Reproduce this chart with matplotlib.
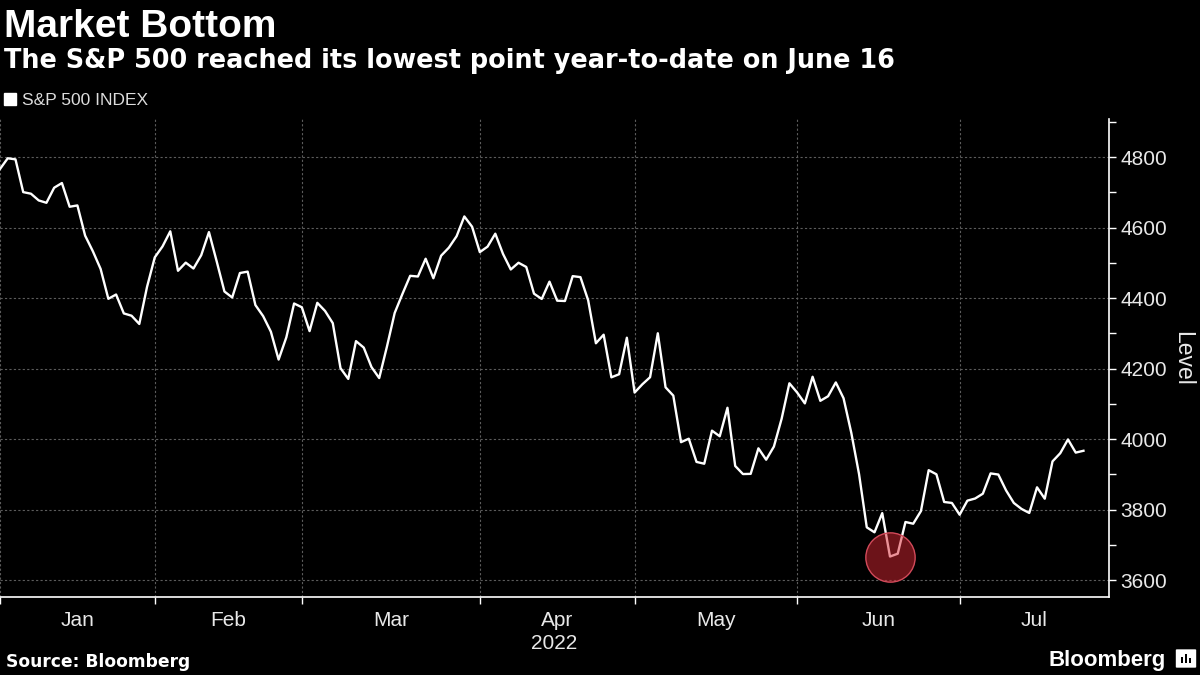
import matplotlib.pyplot as plt
import numpy as np
import pandas as pd
from matplotlib.lines import Line2D
from matplotlib.patches import FancyBboxPatch, Rectangle
from matplotlib.ticker import MultipleLocator

plt.rcParams['font.family'] = ['Liberation Sans', 'DejaVu Sans']

# S&P 500 daily closes, 2021-12-31 .. 2022-07-25 (trading days only)
closes = [
    4766.18,
    # Jan
    4796.56, 4793.54, 4700.58, 4696.05, 4677.03, 4670.29, 4713.07, 4726.35, 4659.03, 4662.85,
    4577.11, 4532.76, 4482.73, 4397.94, 4410.13, 4356.45, 4349.93, 4326.51, 4431.85, 4515.55,
    # Feb
    4546.54, 4589.38, 4477.44, 4500.53, 4483.87, 4521.54, 4587.18, 4504.08, 4418.64, 4401.67,
    4471.07, 4475.01, 4380.26, 4348.87, 4304.76, 4225.50, 4288.70, 4384.65, 4373.94,
    # Mar
    4306.26, 4386.54, 4363.49, 4328.87, 4201.09, 4170.70, 4277.88, 4259.52, 4204.31, 4173.11,
    4262.45, 4357.86, 4411.67, 4463.12, 4461.18, 4511.61, 4456.24, 4520.16, 4543.06, 4575.52,
    4631.60, 4602.45, 4530.41,
    # Apr
    4545.86, 4582.64, 4525.12, 4481.15, 4500.21, 4488.28, 4412.53, 4397.45, 4446.59, 4392.59,
    4391.69, 4462.21, 4459.45, 4393.66, 4271.78, 4296.12, 4175.20, 4183.96, 4287.50, 4131.93,
    # May
    4155.38, 4175.48, 4300.17, 4146.87, 4123.34, 3991.24, 4001.05, 3935.18, 3930.08, 4023.89,
    4008.01, 4088.85, 3923.68, 3900.79, 3901.36, 3973.75, 3941.48, 3978.73, 4057.84, 4158.24,
    4132.15,
    # Jun
    4101.23, 4176.82, 4108.54, 4121.43, 4160.68, 4115.77, 4017.82, 3900.86, 3749.63, 3735.48,
    3789.99, 3666.77, 3674.84, 3764.79, 3759.89, 3795.73, 3911.74, 3900.11, 3821.55, 3818.83,
    3785.38,
    # Jul
    3825.33, 3831.39, 3845.08, 3902.62, 3899.38, 3854.43, 3818.80, 3801.78, 3790.38, 3863.16,
    3830.85, 3936.69, 3959.90, 3998.95, 3961.63, 3966.84,
]
holidays = ['2022-01-17', '2022-02-21', '2022-04-15', '2022-05-30', '2022-06-20', '2022-07-04']
months = ['Jan', 'Feb', 'Mar', 'Apr', 'May', 'Jun', 'Jul']
y_ticks = [3600, 3800, 4000, 4200, 4400, 4600, 4800]

dates = pd.bdate_range('2021-12-31', periods=len(closes), freq='C', holidays=holidays)
x = np.arange(len(closes))
y = np.array(closes)

# last trading day of every month -> month separators
month_end = pd.Series(x, index=dates).groupby(dates.to_period('M')).max().values
bounds = list(month_end[:-1])
x_max = 143.3
centers = [(a + b) / 2 for a, b in zip(bounds, bounds[1:] + [x_max])]

fg = '#e8e8e8'
grid_c = '#5c5c5c'

fig = plt.figure(figsize=(12, 6.75), dpi=100, facecolor='black')
ax = fig.add_axes([0, 78 / 675, 1109 / 1200, 478 / 675], facecolor='black')

ax.plot(x, y, '-', color='white', linewidth=1.7, zorder=3)
i_min = int(np.argmin(y))
ax.plot(x[i_min], y[i_min], 'o', markersize=35.5,
        markerfacecolor=(0.85, 0.15, 0.2, 0.5),
        markeredgecolor='#d24a5a', markeredgewidth=1.0, zorder=4)

ax.set_xlim(0, x_max)
ax.set_ylim(3552, 4908)

ax.set_xticks(bounds)
ax.set_xticklabels([])
ax.set_xticks(centers, minor=True)
ax.set_xticklabels(months, minor=True)
ax.tick_params(axis='x', which='major', length=5, width=1, color='white', direction='out')
ax.tick_params(axis='x', which='minor', length=0, pad=10, labelsize=15, labelcolor=fg)

ax.yaxis.tick_right()
ax.set_yticks(y_ticks)
ax.yaxis.set_minor_locator(MultipleLocator(100))
ax.tick_params(axis='y', which='both', length=5, width=1, color='white', direction='out',
               pad=3, labelsize=15, labelcolor=fg)

ax.grid(True, which='major', color=grid_c, linestyle=(0, (2, 2)), linewidth=0.8)
for s in ['top', 'left']:
    ax.spines[s].set_visible(False)
for s in ['bottom', 'right']:
    ax.spines[s].set_color('white')
    ax.spines[s].set_linewidth(1.2)

ax.yaxis.set_label_position('right')
ax.set_ylabel('Level', rotation=270, va='bottom', fontsize=16.5, color=fg, labelpad=3)

ax.text(0.5, -0.098, '2022', transform=ax.transAxes, ha='center', va='center',
        fontsize=15, color=fg)

# legend
proxy = Line2D([], [], marker='s', linestyle='none', markersize=8, color='white')
fig.legend(handles=[proxy], labels=['S&P 500 INDEX'], loc='center left',
           bbox_to_anchor=(3 / 1200, 1 - 100 / 675), frameon=False,
           handlelength=0.8, handletextpad=0.3, borderpad=0, borderaxespad=0,
           prop={'family': ['Liberation Sans Narrow', 'Liberation Sans'], 'size': 12.5},
           labelcolor='#dddddd')

# titles
fig.text(4 / 1200, 1 - 37 / 675, 'Market Bottom', fontsize=28, fontweight='bold',
         color='white', va='baseline', family=['Liberation Sans', 'DejaVu Sans'])
fig.text(4 / 1200, 1 - 68 / 675, 'The S&P 500 reached its lowest point year-to-date on June 16',
         fontsize=18.4, fontweight='bold', color='white', va='baseline', family=['DejaVu Sans'])
fig.text(6 / 1200, 1 - 667 / 675, 'Source: Bloomberg', fontsize=12.3, fontweight='bold',
         color='white', va='baseline', family=['DejaVu Sans'])

# Bloomberg logo
fig.text(1048 / 1200, 1 - 666 / 675, 'Bloomberg', fontsize=16, fontweight='bold',
         color='white', va='baseline', family=['Liberation Sans', 'DejaVu Sans'])
fig.patches.append(FancyBboxPatch((1177 / 1200, 1 - 667 / 675), 18 / 1200, 17 / 675,
                                  boxstyle='round,pad=0.001', transform=fig.transFigure,
                                  facecolor='white', edgecolor='none'))
for bx, bh in [(1181, 6), (1185, 9), (1189, 5)]:
    fig.patches.append(Rectangle((bx / 1200, 1 - 663 / 675), 2 / 1200, bh / 675,
                                 transform=fig.transFigure, facecolor='black', edgecolor='none'))

fig.savefig('out.png', dpi=100, facecolor='black')
